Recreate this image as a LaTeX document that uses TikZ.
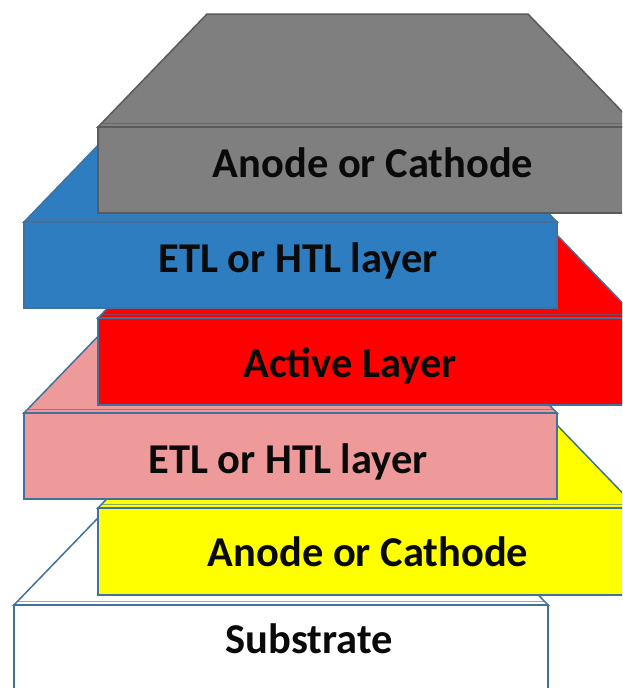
\documentclass[tikz,border=0pt]{standalone}
\usepackage{fontspec}
\setmainfont{Carlito}
\definecolor{metalgray}{HTML}{7F7F7F}
\definecolor{metaledge}{HTML}{5A5A5A}
\definecolor{etlblue}{HTML}{2E7DC0}
\definecolor{activered}{HTML}{FF0000}
\definecolor{htlpink}{HTML}{EF9A9A}
\definecolor{itoyellow}{HTML}{FFFF00}
\definecolor{edgeblue}{HTML}{41719C}
\definecolor{labelink}{HTML}{0A0A0A}

% One layer of the stack: top face (trapezoid), bevel line, front face.
% #1 fill, #2 edge colour, #3 left x, #4 right x, #5 front top y, #6 front bottom y
\newcommand\layerslab[6]{%
  \filldraw[fill=#1, draw=#2, slabline]
    (#3,#5) -- ({#3+109},{#5-113}) -- ({#4-109},{#5-113}) -- (#4,#5) -- cycle;
  \draw[draw=#2, bevelline] ({#3+4},{#5-4}) -- ({#4-4},{#5-4});
  \filldraw[fill=#1, draw=#2, slabline] (#3,#5) rectangle (#4,#6);
}

\begin{document}
\begin{tikzpicture}[x=1pt, y=-1pt,
  slabline/.style={line width=1.5pt, line join=miter},
  bevelline/.style={line width=0.6pt, opacity=0.6},
  layerlabel/.style={font=\bfseries\fontsize{42.5}{42.5}\selectfont, text=labelink,
                     inner sep=0pt, anchor=base}]
  \useasboundingbox (0,0) rectangle (622,688);
  \clip (0,0) rectangle (622,688);

  % layers, bottom to top
  \layerslab{white}{edgeblue}{14}{548}{605}{760}
  \layerslab{itoyellow}{edgeblue}{98}{637}{508}{595}
  \layerslab{htlpink}{edgeblue}{24}{557}{413}{499}
  \layerslab{activered}{edgeblue}{98}{637}{318}{405}
  \layerslab{etlblue}{edgeblue}{24}{557}{222}{308}
  \layerslab{metalgray}{metaledge}{98}{637}{127}{213}

  % labels
  \node[layerlabel] (topelectrode) at (373,177) {Anode or Cathode};
  \node[layerlabel] (uppertransport) at (298,272) {ETL or HTL layer};
  \node[layerlabel] (active) at (350,377) {Active Layer};
  \node[layerlabel] (lowertransport) at (288,473) {ETL or HTL layer};
  \node[layerlabel] (bottomelectrode) at (368,566) {Anode or Cathode};
  \node[layerlabel] (substrate) at (309,653) {Substrate};
\end{tikzpicture}
\end{document}
